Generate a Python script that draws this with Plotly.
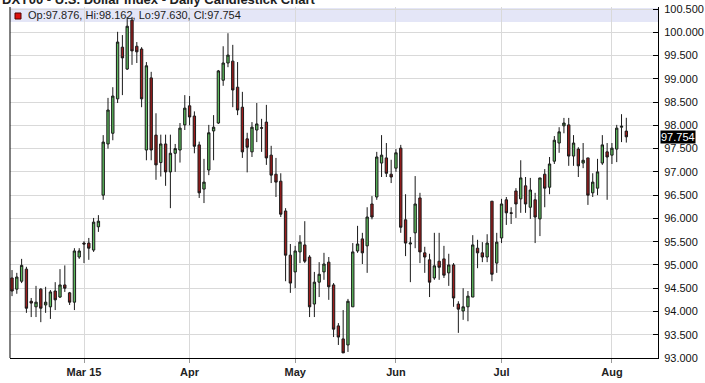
import pandas as pd
import plotly.graph_objects as go

# ---------------- data ----------------
dates = [d.strftime("%Y-%m-%d") for d in pd.bdate_range("2015-02-09", "2015-08-06")]

opens = [94.72, 94.48, 94.65, 94.91, 94.22, 94.10, 94.48, 94.14, 94.10, 94.44,
         94.31, 94.57, 94.40, 94.20, 95.17, 95.47, 95.47, 95.32, 95.82, 96.50,
         97.60, 97.83, 98.57, 99.68, 99.21, 100.26, 99.70, 99.64, 97.47, 99.02,
         97.79, 97.20, 97.60, 97.00, 97.40, 97.47, 98.01, 98.42, 98.20, 97.58,
         96.63, 97.04, 97.88, 98.05, 98.97, 99.34, 99.38, 98.82, 98.39, 97.71,
         97.43, 97.90, 97.95, 98.07, 97.36, 96.95, 96.80, 96.16, 95.21, 94.85,
         95.28, 95.43, 95.17, 94.16, 94.63, 94.85, 95.06, 94.57, 93.69, 93.41,
         93.28, 94.10, 95.30, 95.56, 95.41, 96.31, 96.46, 97.19, 97.30, 96.95,
         97.08, 97.51, 95.97, 95.45, 95.69, 96.44, 95.26, 95.11, 94.72, 95.08,
         95.13, 94.83, 95.00, 94.16, 94.01, 94.10, 94.31, 95.36, 95.26, 95.17,
         96.37, 95.04, 95.58, 96.40, 96.12, 96.59, 96.42, 96.70, 96.24, 96.40,
         95.99, 96.95, 96.67, 97.23, 97.62, 97.99, 98.01, 97.34, 97.49, 97.19,
         97.30, 96.55, 96.65, 97.19, 97.43, 97.36, 97.49, 97.96, 97.876]
highs = [94.89, 94.83, 95.13, 94.96, 94.29, 94.55, 94.50, 94.53, 94.46, 94.63,
         94.91, 94.99, 94.42, 95.36, 95.36, 95.51, 95.58, 96.01, 96.07, 97.79,
         98.59, 98.82, 100.01, 99.94, 100.33, 100.33, 99.79, 99.68, 99.36, 99.15,
         98.26, 97.80, 97.80, 97.80, 97.60, 98.05, 98.65, 98.63, 98.30, 97.65,
         97.28, 98.01, 98.22, 99.19, 99.70, 99.98, 99.73, 99.36, 98.72, 97.84,
         98.07, 98.48, 98.14, 98.44, 97.56, 97.30, 96.97, 96.22, 95.45, 95.41,
         95.64, 95.94, 95.21, 94.85, 95.06, 95.26, 95.17, 94.61, 93.75, 94.03,
         94.27, 95.47, 95.84, 95.69, 96.24, 96.48, 97.43, 97.79, 97.62, 97.26,
         97.49, 97.58, 96.52, 95.60, 96.91, 96.55, 95.39, 95.24, 95.69, 95.69,
         95.41, 95.24, 95.04, 94.22, 94.50, 94.44, 95.64, 95.54, 95.49, 95.66,
         96.37, 95.69, 96.42, 96.46, 96.24, 96.65, 97.25, 96.89, 96.87, 96.55,
         96.87, 97.06, 97.32, 97.77, 97.96, 98.16, 98.16, 97.79, 97.53, 97.62,
         97.30, 96.97, 97.28, 97.79, 97.62, 97.62, 98.01, 98.24, 98.162]
lows = [94.33, 94.38, 94.61, 93.97, 93.88, 93.88, 93.77, 93.97, 93.84, 94.03,
        94.29, 94.42, 94.14, 94.03, 95.13, 95.04, 95.11, 95.28, 95.71, 96.40,
        97.50, 97.68, 98.48, 98.65, 99.19, 99.30, 99.34, 98.39, 97.25, 97.25,
        96.83, 96.90, 96.70, 96.22, 97.00, 97.20, 97.90, 98.00, 97.40, 96.44,
        96.33, 96.93, 97.25, 98.03, 98.85, 99.25, 98.39, 98.22, 97.30, 96.99,
        97.32, 97.64, 97.43, 97.15, 96.76, 96.46, 96.03, 94.65, 94.40, 94.50,
        95.04, 95.04, 93.88, 93.88, 94.31, 94.68, 94.25, 93.45, 93.28, 93.11,
        93.13, 94.10, 95.26, 95.02, 94.83, 95.98, 96.40, 96.89, 96.89, 96.76,
        97.00, 95.69, 95.19, 94.63, 95.36, 95.04, 94.83, 94.31, 94.68, 94.68,
        94.72, 94.55, 94.10, 93.54, 93.82, 93.79, 94.31, 94.93, 95.06, 95.06,
        94.65, 94.83, 95.47, 95.86, 95.88, 96.01, 96.12, 96.12, 95.99, 95.47,
        95.62, 96.24, 96.52, 97.17, 97.41, 97.83, 97.13, 97.13, 96.89, 97.08,
        96.29, 96.46, 96.50, 97.15, 96.40, 97.17, 97.21, 97.64, 97.630]
closes = [94.44, 94.74, 94.99, 94.07, 94.18, 94.20, 94.07, 94.20, 94.42, 94.25,
          94.57, 94.50, 94.20, 95.30, 95.30, 95.45, 95.36, 95.92, 95.94, 97.64,
          98.33, 98.63, 99.79, 99.45, 100.13, 99.60, 99.58, 98.57, 99.28, 97.47,
          97.15, 97.60, 97.00, 97.40, 97.50, 97.94, 98.37, 98.18, 97.55, 96.55,
          96.78, 97.84, 97.96, 99.17, 99.34, 99.51, 98.76, 98.33, 97.43, 97.53,
          97.96, 98.03, 97.94, 97.30, 96.93, 96.78, 96.09, 95.21, 94.61, 95.30,
          95.49, 95.08, 94.10, 94.63, 94.80, 95.02, 94.53, 93.62, 93.45, 93.11,
          94.22, 95.28, 95.45, 95.26, 96.03, 96.03, 97.32, 97.36, 96.97, 96.89,
          97.41, 95.81, 95.47, 95.47, 96.31, 95.28, 95.17, 94.63, 94.98, 94.95,
          94.78, 95.00, 94.29, 94.05, 94.10, 94.33, 95.43, 95.26, 95.17, 95.47,
          94.80, 95.49, 96.31, 96.12, 96.11, 96.31, 96.87, 96.31, 96.61, 96.03,
          96.87, 96.65, 97.17, 97.68, 97.86, 98.05, 97.34, 97.62, 97.13, 97.25,
          96.50, 96.78, 97.00, 97.58, 97.32, 97.51, 97.94, 97.98, 97.754]

month_ticks = ["2015-03-02", "2015-04-01", "2015-05-01", "2015-06-01", "2015-07-01", "2015-08-03"]
month_labels = ["Mar 15", "Apr", "May", "Jun", "Jul", "Aug"]
y_ticks = [93.0 + 0.5 * i for i in range(16)]
last_price = closes[-1]
legend_text = "Op:%.3f, Hi:%.3f, Lo:%.3f, Cl:%.3f" % (opens[-1], highs[-1], lows[-1], closes[-1])
title_text = "DXY00 - U.S. Dollar Index - Daily Candlestick Chart"

# ---------------- figure ----------------
W, H = 705, 383
L, R, T, B = 10, 47, 7, 25
PW, PH = W - L - R, H - T - B


def px_x(x):
    return (x - L) / PW


def px_y(y):
    return 1 - (y - T) / PH


FONT = "Liberation Sans, Arial, sans-serif"

fig = go.Figure(go.Candlestick(
    x=dates, open=opens, high=highs, low=lows, close=closes,
    increasing=dict(fillcolor="#5cb85c", line=dict(color="#1a1a1a", width=1)),
    decreasing=dict(fillcolor="#9b1c1c", line=dict(color="#1a1a1a", width=1)),
    whiskerwidth=0, showlegend=False, hoverinfo="skip",
))

fig.update_layout(
    width=W, height=H, margin=dict(l=L, r=R, t=T, b=B, autoexpand=False),
    paper_bgcolor="white", plot_bgcolor="white",
    font=dict(family=FONT, size=11, color="#111111"),
    xaxis=dict(type="category", range=[-0.42, 134.6], rangeslider=dict(visible=False),
               automargin=False,
               tickmode="array", tickvals=month_ticks, ticktext=month_labels,
               tickfont=dict(family=FONT, size=11, color="#222222", weight="bold"),
               showgrid=True, gridcolor="#d9d9d9", gridwidth=1,
               ticks="outside", ticklen=4, tickcolor="#999999",
               showline=True, linecolor="#000000", linewidth=1, mirror=False,
               zeroline=False),
    yaxis=dict(side="right", range=[93.0, 93.0 + (358 - T) / 46.53], tickmode="array",
               automargin=False,
               tickvals=y_ticks, tickformat=".3f",
               tickfont=dict(family=FONT, size=11, color="#111111"),
               ticklabelstandoff=3,
               showgrid=True, gridcolor="#d9d9d9", gridwidth=1,
               ticks="inside", ticklen=5, tickcolor="#000000",
               showline=True, linecolor="#000000", linewidth=1, zeroline=False),
)

shapes = [
    # left border
    dict(type="line", xref="paper", yref="paper", x0=0, x1=0, y0=0, y1=1,
         line=dict(color="#000000", width=1)),
    # legend band
    dict(type="rect", xref="paper", yref="paper", x0=0, x1=1, y0=px_y(22), y1=px_y(8),
         fillcolor="rgba(210,214,242,0.6)", line=dict(width=0), layer="below"),
    # legend marker
    dict(type="rect", xref="paper", yref="paper", x0=px_x(15), x1=px_x(21), y0=px_y(19), y1=px_y(13),
         fillcolor="#dd1111", line=dict(color="#550000", width=1)),
]
fig.update_layout(shapes=shapes)

fig.add_annotation(text=legend_text, xref="paper", yref="paper", x=px_x(26), y=px_y(15.5),
                   xanchor="left", yanchor="middle", showarrow=False,
                   font=dict(family=FONT, size=11, color="#222222"))
fig.add_annotation(text=title_text, xref="paper", yref="paper", x=px_x(0), y=px_y(9),
                   xanchor="left", yanchor="bottom", showarrow=False,
                   font=dict(family=FONT, size=13, color="#222222", weight="bold"))
fig.add_annotation(text="%.3f" % last_price, xref="paper", yref="y", x=1, y=last_price,
                   xanchor="left", yanchor="middle", showarrow=False, xshift=2,
                   bgcolor="#000000", borderpad=0,
                   font=dict(family=FONT, size=11, color="#ffffff"))

fig.write_html("out.html")
